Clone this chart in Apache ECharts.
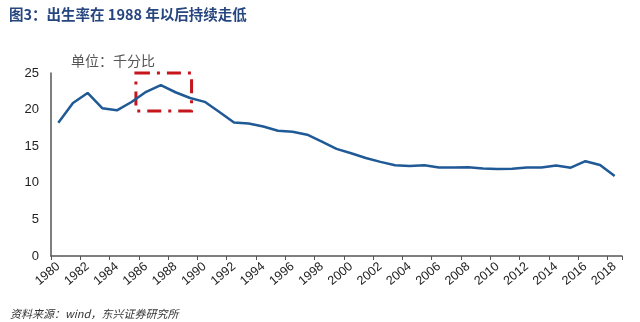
<!DOCTYPE html>
<html>
<head>
<meta charset="utf-8">
<script src="https://cdn.jsdelivr.net/npm/echarts@6/dist/echarts.min.js"></script>
<style>
  html, body { margin: 0; padding: 0; background: #fff; }
  #chart { width: 640px; height: 322px; }
</style>
</head>
<body>
<div id="chart"></div>
<script>
// Annual birth rate (per mille), 1980-2018
const years = [];
for (let y = 1980; y <= 2018; y++) years.push(String(y));
const birthRate = [
  18.21, 20.91, 22.28, 20.19, 19.90, 21.04, 22.43, 23.33, 22.37, 21.58,
  21.06, 19.68, 18.24, 18.09, 17.70, 17.12, 16.98, 16.57, 15.64, 14.64,
  14.03, 13.38, 12.86, 12.41, 12.29, 12.40, 12.09, 12.10, 12.14, 11.95,
  11.90, 11.93, 12.10, 12.08, 12.37, 12.07, 12.95, 12.43, 10.94
];
const yTicks = [0, 5, 10, 15, 20, 25];
// Highlighted period around the 1987 peak (year span, rate span)
const peakYears = [1985.8, 1989.6];
const peakRates = [19.8, 25.4];

const chart = echarts.init(document.getElementById('chart'));
const font = '"Liberation Sans", Arial, sans-serif';
const cjk = '"Noto Sans CJK SC", "Liberation Sans", sans-serif';

chart.setOption({
  animation: false,
  backgroundColor: '#fff',
  title: [
    {
      text: '图3：出生率在 1988 年以后持续走低',
      left: 4, top: 2,
      textStyle: { fontFamily: cjk, fontSize: 14.5, fontWeight: 'bold', color: '#27467f' }
    },
    {
      text: '单位：千分比',
      left: 66, top: 49,
      textStyle: { fontFamily: cjk, fontSize: 14, fontWeight: 'normal', color: '#555' }
    },
    {
      text: '资料来源：wind，东兴证券研究所',
      left: 5, top: 303,
      textStyle: { fontFamily: cjk, fontSize: 11, fontWeight: 'normal', fontStyle: 'italic', color: '#333' }
    }
  ],
  grid: { left: 51, right: 18, top: 73, bottom: 66 },
  xAxis: [
    {
      type: 'category',
      data: years,
      boundaryGap: true,
      axisLine: { lineStyle: { color: '#555', width: 1.5 } },
      axisTick: { show: true, interval: 1, length: 4, lineStyle: { color: '#555' } },
      axisLabel: {
        interval: 1, rotate: 40, fontFamily: font, fontSize: 12.5, color: '#222', margin: 9
      }
    },
    {
      type: 'value',
      min: 1980, max: 2019,
      show: false
    }
  ],
  yAxis: {
    type: 'value',
    min: 0, max: 25, interval: 5,
    splitLine: { show: false },
    axisLine: { show: true, lineStyle: { color: '#555', width: 1.5 } },
    axisTick: { show: false },
    axisLabel: {
      fontFamily: font, fontSize: 13, color: '#222', margin: 12,
      customValues: yTicks
    }
  },
  series: [
    {
      type: 'line',
      data: birthRate,
      xAxisIndex: 0,
      symbol: 'none',
      lineStyle: { color: '#1f5a96', width: 2.5 },
      z: 3
    },
    {
      type: 'line',
      xAxisIndex: 1,
      data: [],
      symbol: 'none',
      markArea: {
        silent: true,
        itemStyle: {
          color: 'rgba(0,0,0,0)',
          borderColor: '#c4161c',
          borderWidth: 3,
          borderType: [14, 7, 3, 7]
        },
        data: [[
          { coord: [peakYears[0], peakRates[1]] },
          { coord: [peakYears[1], peakRates[0]] }
        ]]
      },
      z: 4
    }
  ]
});
</script>
</body>
</html>
